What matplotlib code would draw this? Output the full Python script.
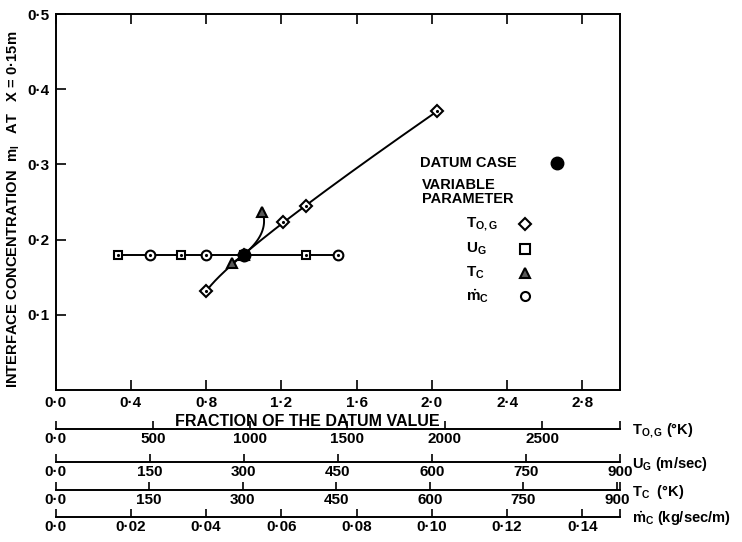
import numpy as np
import matplotlib.pyplot as plt
from matplotlib.ticker import FixedLocator, FuncFormatter

plt.rcParams['font.family'] = ['Liberation Sans', 'DejaVu Sans']
plt.rcParams['font.weight'] = 'bold'
plt.rcParams['mathtext.fontset'] = 'custom'
plt.rcParams['mathtext.rm'] = 'Liberation Sans:bold'
plt.rcParams['mathtext.it'] = 'Liberation Sans:bold'

# interface concentration vs fraction of datum value, one series per parameter
datum_x, datum_y = 1.0, 0.18

tog_x = [0.80, 1.0, 1.21, 1.33, 2.03]
tog_y = [0.131, 0.18, 0.223, 0.245, 0.371]

ug_x = [0.333, 0.667, 1.0, 1.333]
ug_y = [0.18, 0.18, 0.18, 0.18]

tc_x = [0.94, 1.0, 1.10]
tc_y = [0.169, 0.18, 0.237]

mc_x = [0.5, 0.8, 1.0, 1.5]
mc_y = [0.18, 0.18, 0.18, 0.18]

x_ticks = [0.0, 0.4, 0.8, 1.2, 1.6, 2.0, 2.4, 2.8]
y_ticks = [0.1, 0.2, 0.3, 0.4, 0.5]

# dimensional scales underneath (value at fraction 3.0 of datum)
scale_labels = [r"T$_{\rm O,G}$ (°K)", r"U$_{\rm G}$ (m/sec)",
                r"T$_{\rm C}$  (°K)", r"$\dot{\rm m}_{\rm C}$ (kg/sec/m)"]
scale_max = [2900, 900, 905, 0.15]
scale_ticks = [[0, 500, 1000, 1500, 2000, 2500],
               [0, 150, 300, 450, 600, 750, 900],
               [0, 150, 300, 450, 600, 750, 900],
               [0, 0.02, 0.04, 0.06, 0.08, 0.10, 0.12, 0.14]]


def dot_fmt(v, pos):
    if v == 0:
        return "0·0"
    if v >= 100:
        return "%d" % v
    return ("%.2f" % v).replace(".", "·")


def one_dec(v, pos):
    return ("%.1f" % v).replace(".", "·")


W, H = 742, 542
fig = plt.figure(figsize=(W / 100, H / 100), dpi=100)
left, right = 55.5, 620
top, bot = 14, 390
ax = fig.add_axes([left / W, 1 - bot / H, (right - left) / W, (bot - top) / H])

# smooth curves through the points
t = np.linspace(0, 1, 200)
u = np.array([0, 0.27, 0.45, 0.53, 1.0])
cx = np.polyfit(u, tog_x, 3)
cy = np.polyfit(u, tog_y, 3)
ax.plot(np.polyval(cx, t), np.polyval(cy, t), color='k', lw=1.4)

py = np.polyfit(tc_y, tc_x, 2)
yy = np.linspace(tc_y[0], tc_y[-1], 100)
ax.plot(np.polyval(py, yy), yy, color='k', lw=1.4)

ax.plot([min(ug_x + mc_x), max(ug_x + mc_x)], [datum_y, datum_y], color='k', lw=1.4)

mk = dict(color='k', mfc='white', mew=1.5, ls='none', zorder=3)
ax.plot(tog_x, tog_y, marker='D', ms=6, **mk)
ax.plot(ug_x, ug_y, marker='s', ms=6, **mk)
ax.plot(tc_x, tc_y, marker='^', ms=7, color='k', mfc='0.35', mew=1.5, ls='none', zorder=3)
ax.plot(mc_x, mc_y, marker='o', ms=7, **mk)
for xs, ys in [(tog_x, tog_y), (ug_x, ug_y), (mc_x, mc_y)]:
    ax.plot(xs, ys, 'k.', ms=2.5, zorder=4)
ax.plot([datum_x], [datum_y], 'ko', ms=9, zorder=5)

ax.set_xlim(0, 3.0)
ax.set_ylim(0, 0.5)
ax.set_xticks(x_ticks)
ax.set_yticks(y_ticks)
ax.xaxis.set_major_formatter(FuncFormatter(one_dec))
ax.yaxis.set_major_formatter(FuncFormatter(one_dec))
ax.tick_params(direction='in', length=7, width=1.2, labelsize=11, top=True, pad=4)
ax.tick_params(axis='x', labeltop=False)
for s in ax.spines.values():
    s.set_linewidth(1.4)
fig.text(14 / W, 1 - 209 / H, r"INTERFACE CONCENTRATION  m$_{\rm I}$   AT   X = 0·15m",
         rotation=90, ha='center', va='center', fontsize=10.6)
fig.text(307 / W, 1 - 422 / H, "FRACTION OF THE DATUM VALUE", ha='center', va='center', fontsize=11.5)

# key
fig.text(420 / W, 1 - 163 / H, "DATUM CASE", fontsize=10.5, va='center')
fig.text(422 / W, 1 - 192 / H, "VARIABLE\nPARAMETER", fontsize=10.5, va='center', linespacing=1.0)
key_y = [224, 249, 273, 296]
key_txt = [r"T$_{\rm O,G}$", r"U$_{\rm G}$", r"T$_{\rm C}$", r"$\dot{\rm m}_{\rm C}$"]
key_m = ['D', 's', '^', 'o']
key_face = ['white', 'white', '0.35', 'white']
for ky, kt, km, kf in zip(key_y, key_txt, key_m, key_face):
    fig.text(466 / W, 1 - ky / H, kt, fontsize=11, va='center')
    fig.lines.append(plt.Line2D([525 / W], [1 - ky / H], marker=km, ms=6.5, color='k',
                                mfc=kf, mew=1.5, transform=fig.transFigure))
fig.lines.append(plt.Line2D([557 / W], [1 - 163 / H], marker='o', ms=9, color='k',
                            transform=fig.transFigure))

# extra scales
line_y = [429, 462, 490, 517]
for ly, lab, vmax, ticks in zip(line_y, scale_labels, scale_max, scale_ticks):
    a = fig.add_axes([left / W, 1 - ly / H, (right - left) / W, 0.0001])
    a.patch.set_visible(False)
    for side in ['left', 'right', 'top']:
        a.spines[side].set_visible(False)
    a.spines['bottom'].set_linewidth(1.4)
    a.set_yticks([])
    a.set_xlim(0, vmax)
    a.xaxis.set_major_locator(FixedLocator(ticks))
    a.xaxis.set_minor_locator(FixedLocator([vmax]))
    a.xaxis.set_major_formatter(FuncFormatter(dot_fmt))
    a.tick_params(axis='x', which='both', direction='in', length=6, width=1.2,
                  labelsize=11, pad=2)
    fig.text(632 / W, 1 - (ly + 2) / H, lab, fontsize=10.5, va='center')

fig.savefig("out.png", dpi=100)
